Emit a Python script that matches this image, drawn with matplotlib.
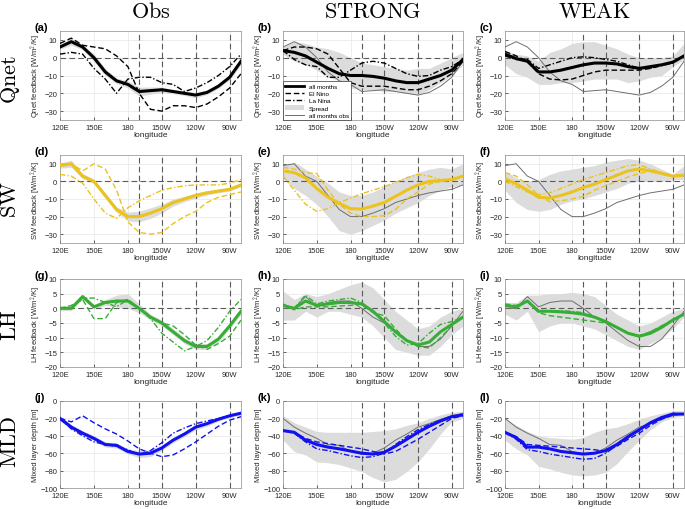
import matplotlib.pyplot as plt
from matplotlib.lines import Line2D
from matplotlib.patches import Patch

plt.rcParams['font.family'] = ['Liberation Sans', 'DejaVu Sans']
plt.rcParams['mathtext.fontset'] = 'cm'

# longitude (deg E)
lon = [120, 130, 140, 150, 160, 170, 180, 190, 200, 210, 220, 230, 240, 250, 260, 270, 280]

# ---- Qnet ----
qnet_obs_mean = [6, 9, 6, 0, -8, -13, -15, -19, -18.5, -18, -19, -20, -21, -19.5, -16, -11, -2]
qnet_obs_nino = [8, 11, 7, 6, 5, 1, -5, -20, -29, -30, -27, -27, -28, -26, -22, -17, -9]
qnet_obs_nina = [2, 3, 2, -6, -12, -20, -12, -11, -11, -14, -15, -19, -17, -14, -10, -5, 2]
qnet_obs_sprd = [1.2, 2, 1.5, 2, 2, 1.5, 2, 2.5, 2, 1.5, 1.2, 1.2, 1.5, 1.2, 1.2, 1.5, 2]

qnet_strong_mean = [4, 3, 1, -2.5, -6, -9, -10, -10, -10.5, -11.5, -13, -14, -14, -12, -10, -7, -1]
qnet_strong_nino = [4, 6, 6, 5, 2, -6, -14, -16, -16, -16, -17, -18, -18, -16, -13, -9, -2]
qnet_strong_nina = [4, -1, -4, -5, -11, -11, -7, -3, -2, -3, -6, -9, -10.5, -10, -7, -5, -1]
qnet_strong_lo = [2, -2, -4, -7, -11, -13, -17, -18, -18, -19, -19, -20, -21, -18, -14, -10, -4]
qnet_strong_hi = [6, 9, 8, 6, 5, 3, 0, -3, -4, -5, -6, -7, -6, -6, -3, 0, 3]

qnet_weak_mean = [2, -0.5, -2, -8, -8, -7, -5.5, -4, -3, -3, -3.5, -5, -6, -5, -4, -2.5, 1]
qnet_weak_nino = [3.5, 1, -2, -9, -12, -12.5, -12, -10, -8, -7, -7, -7, -7, -6, -4, -2.5, 1]
qnet_weak_nina = [1, -1, -1, -6, -4, -2, 0, 0.5, 0, -1, -2, -4, -6, -6, -4.5, -3, 1]
qnet_weak_lo = [-4, -9, -11, -15, -15, -14, -14, -13, -12, -12, -12, -14, -13, -11, -10, -5, -1]
qnet_weak_hi = [4, 2, 1, -2, 3, 5, 8, 9, 9, 7, 5, 2, 0, 0, 0, 1, 8]

# ---- SW ----
sw_obs_mean = [9, 10, 3, 0, -8, -16, -20, -20, -18, -15.5, -12, -10, -8, -6.5, -5.5, -4.5, -2]
sw_obs_nino = [10, 10, 6, 10, 7, -5, -23, -29, -30, -29, -24, -20, -17, -12, -9, -7.5, -6]
sw_obs_nina = [4, 3, -1, -10, -18, -21, -15, -11, -8, -5, -3.5, -2.5, -2, -2, -2, -1, 1]
sw_obs_sprd = [1.5, 2, 1.5, 1.2, 1.5, 1.5, 2.5, 3, 3, 2.5, 2, 1.5, 1.5, 1.2, 1, 1, 1]

sw_strong_mean = [6, 5, 2, -4, -9, -12.5, -15.5, -15.7, -14, -12, -8.5, -5, -2, 0, 0.5, 1, 3]
sw_strong_nino = [8, 7, 5, 4.5, -5, -13, -18, -20, -20, -19.5, -16, -10, -6, -1.5, 0, 1, 3]
sw_strong_nina = [3, -5, -13, -17, -15.5, -12, -9.5, -7, -5, -3, -0.5, 2, 4, 3, 1, 1, 3]
sw_strong_lo = [2, -4, -8, -13, -20, -28, -30, -28, -25, -22, -18, -15, -12, -8, -5, -3, -2]
sw_strong_hi = [9, 11, 7, 3, -1, -6, -8, -8, -6, -3, 0, 3, 5, 7, 8, 7, 10]

sw_weak_mean = [1.5, -1.3, -5, -9, -9.5, -8, -6, -3.5, -1.5, 1, 3.5, 6, 7, 6, 4.5, 3, 3.5]
sw_weak_nino = [5, 3, -2, -8, -11.5, -11, -10, -8.5, -5, -2.5, 0, 2.5, 4.5, 6, 5, 3, 3]
sw_weak_nina = [0, -3, -6, -7.5, -6.5, -4, -1.5, 1, 3, 5, 7, 9, 9.5, 7, 5, 3, 3.5]
sw_weak_lo = [-5, -12, -16, -17, -16, -13, -11, -10, -8, -6, -4, -1, 0, 0, 0, 1, 1]
sw_weak_hi = [6, 2, 0, 1, 4, 6, 7, 8, 9, 11, 12, 13, 12, 10, 7, 4, 9]

# ---- LH ----
lh_obs_mean = [0, 0, 4, 0.5, 2, 2.5, 2.5, 0, -3, -5, -8, -11, -13, -13, -10.5, -6, -1]
lh_obs_nino = [0, 1, 3, -3.5, -3.5, 2, 3, 0, -3, -5, -6, -9, -12.5, -14, -12, -9.5, -4]
lh_obs_nina = [0, 0, 3.5, 3.5, 2, 0.5, 3, 0, -3.5, -8.5, -11.5, -14.5, -13, -11, -6.5, -1, 3]
lh_obs_sprd = [0.8, 0.8, 0.8, 0.8, 1, 2, 2.5, 1.5, 1, 1, 1, 1, 1, 1, 1, 1, 1]

lh_strong_mean = [1, 0, 2.5, 1, 1.5, 2, 2, 1.5, -1, -4.5, -8, -11, -12.5, -11.5, -8, -5.5, -3]
lh_strong_nino = [1.5, -0.5, 0.5, 0.5, 0.5, 0.8, 1, 1.5, -1.5, -2.5, -7, -11, -13, -13.5, -10, -6, -3]
lh_strong_nina = [1, 0, 4.5, 1.5, 2.5, 3, 3.5, 2, -1, -5, -9.5, -12.5, -12, -8.5, -5.5, -4.5, -3]
lh_strong_lo = [-4, -4, -1, -3, -1, -1, -2, -3, -6, -10, -14, -15, -16, -16, -13, -9, -6]
lh_strong_hi = [6, 3, 5, 4, 5, 6.5, 8, 9, 7, 3, -1, -4, -7, -6, -3, -1, 0]

lh_weak_mean = [1, 0.5, 2.5, -1, -1, -1.2, -1.5, -2, -3, -4.5, -6.5, -8.5, -9.5, -8.5, -6.5, -4, -2]
lh_weak_nino = [1.5, 1, 2.5, -1.5, -2.5, -3, -3.5, -4, -4.5, -5, -6.5, -8.5, -9.5, -8, -6, -4, -2]
lh_weak_nina = [1, 0, 2.5, -1, -0.8, -0.8, -1, -1.5, -3, -4.5, -6.5, -8.5, -9.3, -8, -6, -4, -2]
lh_weak_lo = [-2, -4, -1, -8, -6, -5, -5, -6, -7, -9, -11, -13, -14, -12, -10, -7, -3]
lh_weak_hi = [2, 2, 4.5, 4.5, 5, 5, 5.5, 5, 4, 1, -2, -4, -6, -5, -3, -1, 0]

# ---- MLD ----
mld_obs_mean = [-20, -30, -37, -43, -50, -51, -58, -61, -60, -54, -45, -38, -30, -26, -21, -17, -14]
mld_obs_nino = [-20, -24, -17, -25, -32, -38, -46, -55, -60, -64, -62, -55, -47, -38, -29, -22, -18]
mld_obs_nina = [-20, -32, -40, -47, -50, -52, -56, -62, -57, -48, -37, -31, -26, -23, -20, -17, -14]
mld_obs_sprd = [3, 3, 3, 3, 3, 3, 3, 4, 4, 3, 3, 3, 3, 3, 2, 2, 2]

mld_strong_mean = [-34, -36, -45, -50, -53, -55, -57.5, -60, -61, -59, -52, -44, -36, -29, -23, -18, -16]
mld_strong_nino = [-34, -36, -43, -47, -49, -51, -53, -55, -58, -61, -58, -51, -44, -36, -28, -20, -17]
mld_strong_nina = [-34, -37, -47, -55, -57, -60, -63, -65, -64, -60, -50, -41, -33, -27, -22, -18, -16]
mld_strong_lo = [-45, -58, -62, -70, -71, -73, -77, -81, -88, -93, -90, -81, -70, -55, -38, -24, -20]
mld_strong_hi = [-17, -25, -30, -35, -36, -36, -36, -36, -35, -34, -32, -28, -25, -20, -16, -13, -12]

mld_weak_mean = [-36, -42, -53, -53, -55, -58, -59.5, -61, -60, -57, -50, -41, -33, -25, -19, -15, -15]
mld_weak_nino = [-36, -41, -50, -51, -52, -53, -54, -55, -56, -58, -52, -44, -37, -28, -21, -16, -15]
mld_weak_nina = [-36, -44, -56, -58, -61, -63, -65, -67, -66, -60, -51, -42, -34, -26, -20, -15, -15]
mld_weak_lo = [-45, -55, -62, -75, -78, -82, -85, -86, -85, -82, -72, -58, -45, -33, -24, -19, -17]
mld_weak_hi = [-20, -28, -35, -40, -42, -43, -44, -42, -36, -32, -30, -26, -21, -17, -14, -11, -11]

col_titles = ['Obs', 'STRONG', 'WEAK']
row_names = ['Qnet', 'SW', 'LH', 'MLD']
xtick_pos = [120, 150, 180, 210, 240, 270]
xtick_lab = ['120E', '150E', '180', '150W', '120W', '90W']
guide_lons = [190, 210, 240, 270]

rows = [
    dict(color='black', ylim=(-35, 15), yticks=[-30, -20, -10, 0, 10],
         ylabel='Qnet feedback [W/m$^2$/K]',
         obs=(qnet_obs_mean, qnet_obs_nino, qnet_obs_nina, qnet_obs_sprd),
         strong=(qnet_strong_mean, qnet_strong_nino, qnet_strong_nina, qnet_strong_lo, qnet_strong_hi),
         weak=(qnet_weak_mean, qnet_weak_nino, qnet_weak_nina, qnet_weak_lo, qnet_weak_hi)),
    dict(color='#EBC31C', ylim=(-35, 15), yticks=[-30, -20, -10, 0, 10],
         ylabel='SW feedback [W/m$^2$/K]',
         obs=(sw_obs_mean, sw_obs_nino, sw_obs_nina, sw_obs_sprd),
         strong=(sw_strong_mean, sw_strong_nino, sw_strong_nina, sw_strong_lo, sw_strong_hi),
         weak=(sw_weak_mean, sw_weak_nino, sw_weak_nina, sw_weak_lo, sw_weak_hi)),
    dict(color='#36AE36', ylim=(-20, 10), yticks=[-20, -15, -10, -5, 0, 5, 10],
         ylabel='LH feedback [W/m$^2$/K]',
         obs=(lh_obs_mean, lh_obs_nino, lh_obs_nina, lh_obs_sprd),
         strong=(lh_strong_mean, lh_strong_nino, lh_strong_nina, lh_strong_lo, lh_strong_hi),
         weak=(lh_weak_mean, lh_weak_nino, lh_weak_nina, lh_weak_lo, lh_weak_hi)),
    dict(color='#1010F0', ylim=(-100, 0), yticks=[-100, -80, -60, -40, -20, 0],
         ylabel='Mixed layer depth [m]',
         obs=(mld_obs_mean, mld_obs_nino, mld_obs_nina, mld_obs_sprd),
         strong=(mld_strong_mean, mld_strong_nino, mld_strong_nina, mld_strong_lo, mld_strong_hi),
         weak=(mld_weak_mean, mld_weak_nino, mld_weak_nina, mld_weak_lo, mld_weak_hi)),
]

W, H = 685, 510
fig = plt.figure(figsize=(W / 100, H / 100), dpi=100)
col_left = [60, 283, 505]
col_w = [181, 180, 179]
row_top = [32, 156, 280, 402]
row_h = [89, 88, 88, 87]
fill_c = '#dcdcdc'
guide_c = '#5a5a5a'
letters = 'abcdefghijkl'

for r, row in enumerate(rows):
    for c in range(3):
        ax = fig.add_axes([col_left[c] / W, 1 - (row_top[r] + row_h[r]) / H,
                           col_w[c] / W, row_h[r] / H])
        col = row['color']
        if c == 0:
            mean, nino, nina, sprd = row['obs']
            lo = [m - s for m, s in zip(mean, sprd)]
            hi = [m + s for m, s in zip(mean, sprd)]
        else:
            mean, nino, nina, lo, hi = row['strong'] if c == 1 else row['weak']
        ax.fill_between(lon, lo, hi, color=fill_c, lw=0, zorder=1)
        if c > 0:
            ax.plot(lon, row['obs'][0], color='#6e6e6e', lw=0.7, zorder=3)
        ax.plot(lon, nino, color=col, lw=1.0, ls=(0, (4, 2)), zorder=4)
        ax.plot(lon, nina, color=col, lw=1.0, ls=(0, (4, 1.5, 1, 1.5)), zorder=4)
        ax.plot(lon, mean, color=col, lw=2.2, zorder=5)
        for g in guide_lons:
            ax.axvline(g, color=guide_c, lw=0.8, ls=(0, (5, 3)), zorder=2)
        if r < 3:
            ax.axhline(0, color=guide_c, lw=0.8, ls=(0, (5, 3)), zorder=2)

        ax.set_xlim(120, 280)
        ax.set_ylim(*row['ylim'])
        ax.set_xticks(xtick_pos)
        ax.set_xticklabels(xtick_lab)
        ax.set_yticks(row['yticks'])
        ax.grid(True, color='#e6e6e6', lw=0.5, zorder=0)
        ax.set_axisbelow(True)
        ax.tick_params(direction='in', length=2, width=0.5, labelsize=5.5,
                       colors='#262626', pad=2)
        ax.tick_params(axis='x', pad=2.6)
        for s in ax.spines.values():
            s.set_color('#8c8c8c')
            s.set_linewidth(0.5)
        ax.set_xlabel('longitude', fontsize=6, labelpad=0.5, color='#262626')
        ax.set_ylabel(row['ylabel'], fontsize=5.5, labelpad=1, color='#262626')
        ax.text(-0.14, 1.05, '(' + letters[r * 3 + c] + ')', transform=ax.transAxes,
                fontsize=8, fontweight='bold', ha='left', va='center')

        if r == 0 and c == 1:
            handles = [Line2D([], [], color='black', lw=2.0),
                       Line2D([], [], color='black', lw=1.0, ls=(0, (4, 2))),
                       Line2D([], [], color='black', lw=1.0, ls=(0, (4, 1.5, 1, 1.5))),
                       Patch(facecolor=fill_c, edgecolor='none'),
                       Line2D([], [], color='#6e6e6e', lw=0.7)]
            leg = ax.legend(handles, ['all months', 'El Nino', 'La Nina', 'Spread', 'all months obs'],
                            loc='lower left', fontsize=4.5, frameon=True, fancybox=False,
                            edgecolor='#333333', framealpha=1, borderaxespad=0,
                            handlelength=3, labelspacing=0.3, borderpad=0.35)
            leg.get_frame().set_linewidth(0.5)
            leg.set_zorder(10)

for c in range(3):
    xc = (col_left[c] + col_w[c] / 2) / W
    fig.text(xc, 1 - 13 / H, r'$\mathrm{' + col_titles[c] + '}$', fontsize=16,
             ha='center', va='center')

row_center = [80, 200, 325, 442]
for r in range(4):
    fig.text(10 / W, 1 - row_center[r] / H, r'$\mathrm{' + row_names[r] + '}$', fontsize=16,
             rotation=90, ha='center', va='center')

fig.savefig('out.png', dpi=100)
